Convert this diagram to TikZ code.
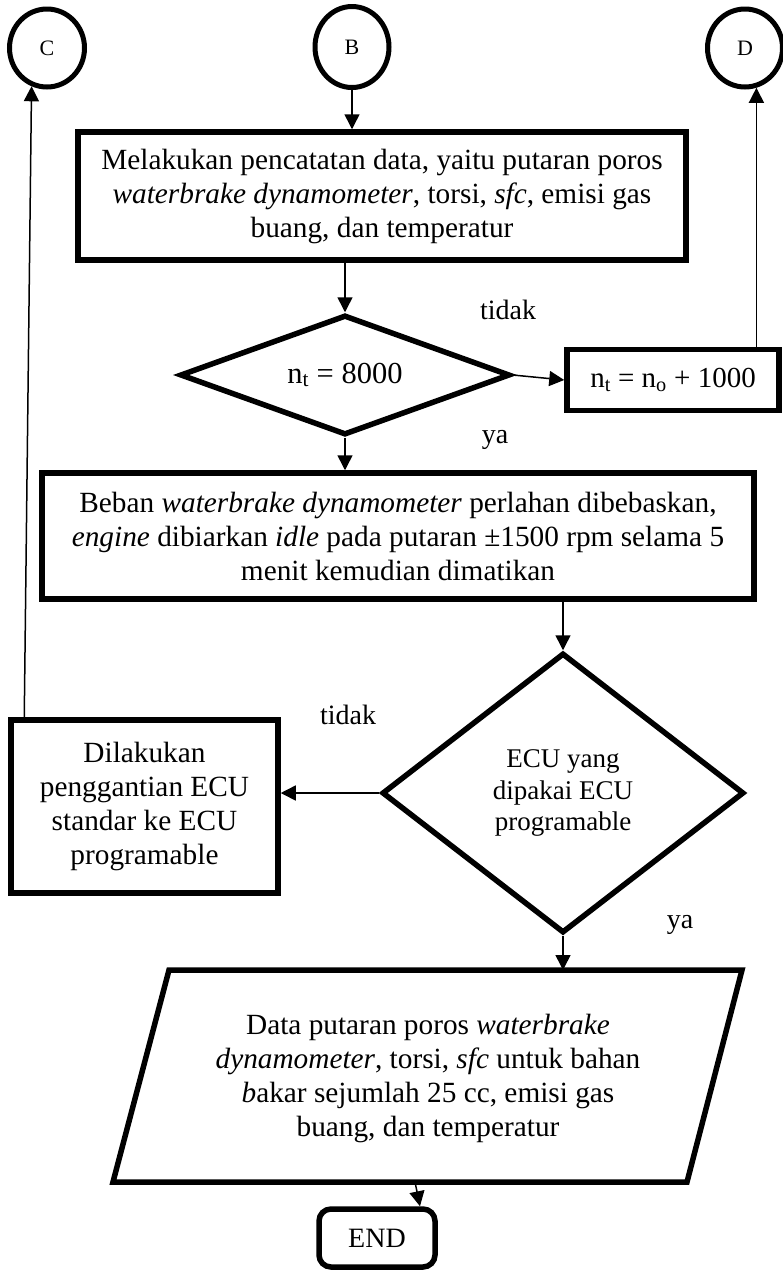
\documentclass[tikz,border=0pt]{standalone}
\usepackage{fontspec}
\setmainfont{Liberation Serif}
\usetikzlibrary{arrows.meta,shapes.geometric}
\begin{document}
\begin{tikzpicture}[x=1pt,y=-1pt,
  txt/.style={font=\fontsize{29.3}{34}\selectfont, align=center, inner sep=0pt},
  connector/.style={ellipse, draw, line width=5pt, minimum width=75pt,
    minimum height=78pt, inner sep=0pt, font=\fontsize{22}{24}\selectfont},
  heavy/.style={line width=5.5pt},
  procbox/.style={txt, draw, heavy, rectangle},
  decision/.style={txt, draw, heavy, diamond},
  endbox/.style={txt, draw, heavy, rectangle, rounded corners=12pt,
    font=\fontsize{28}{34}\selectfont},
  lbl/.style={font=\fontsize{28}{34}\selectfont, inner sep=0pt},
  arr/.style={line width=1.5pt, -{Triangle[length=15pt,width=15pt]}}]
\useasboundingbox (0,0) rectangle (783,1270);

% off-page connectors
\node[connector] (C) at (47,48) {C};
\node[connector, minimum width=74pt, minimum height=81pt] (B) at (352,47) {B};
\node[connector] (D) at (745,48) {D};

% recording step
\node[procbox, minimum width=608pt, minimum height=128pt] (rec) at (382,196)
  {Melakukan pencatatan data, yaitu putaran poros\\
   \textit{waterbrake dynamometer}, torsi, \textit{sfc}, emisi gas\\
   buang, dan temperatur};

% speed check
\node[decision, aspect=2.7, minimum width=330pt, minimum height=120pt,
  font=\fontsize{30.5}{34}\selectfont] (chk) at (345,375)
  {n\textsubscript{t} = 8000};
\node[procbox, minimum width=212pt, minimum height=61pt,
  font=\fontsize{29}{34}\selectfont] (inc) at (673,380)
  {n\textsubscript{t} = n\textsubscript{o} + 1000};

% release load
\node[procbox, minimum width=712pt, minimum height=126pt] (rel) at (398,536)
  {Beban \textit{waterbrake dynamometer} perlahan dibebaskan,\\
   \textit{engine} dibiarkan \textit{idle} pada putaran ±1500 rpm selama 5\\
   menit kemudian dimatikan};

% ECU check
\node[decision, aspect=1.3, minimum width=362pt, minimum height=280pt,
  font=\fontsize{27}{31.5}\selectfont] (ecu) at (563,793)
  {ECU yang\\ dipakai ECU\\ programable};
\node[procbox, minimum width=267pt, minimum height=173pt] (swap) at (144.5,806.5)
  {Dilakukan\\ penggantian ECU\\ standar ke ECU\\ programable};

% output data: parallelogram outline around a text node
\draw[heavy, line join=miter] (169,970) -- (742,970) -- (687,1182) -- (113,1182) -- cycle;
\coordinate (outtop) at (428,970);
\coordinate (outbot) at (428,1182);
\node[txt] (out) at (428,1078)
  {Data putaran poros \textit{waterbrake}\\
   \textit{dynamometer}, torsi, \textit{sfc} untuk bahan\\
   \textit{b}akar sejumlah 25 cc, emisi gas\\
   buang, dan temperatur};

\node[endbox, minimum width=116pt, minimum height=58pt] (fin) at (377,1238) {END};

% branch labels
\node[lbl] (t1) at (508,310) {tidak};
\node[lbl] (y1) at (495,440) {ya};
\node[lbl] (t2) at (348,715) {tidak};
\node[lbl] (y2) at (680,925) {ya};

% connectors
\draw[arr] (B.south) -- (B.south |- rec.north);
\draw[arr] (chk.north |- rec.south) -- (chk.north);
\draw[arr] (chk.east) -- (inc.west);
\draw[arr] (inc.north -| D.-74) -- (D.-74);
\draw[arr] (chk.south) -- (chk.south |- rel.north);
\draw[arr] (ecu.north |- rel.south) -- (ecu.north);
\draw[arr] (ecu.west) -- (ecu.west -| swap.east);
\draw[arr] ([xshift=16pt]swap.north west) -- (C.-112);
\draw[arr] (ecu.south) -- (ecu.south |- outtop);
\draw[arr] ([xshift=-13pt]outbot) -- ([xshift=43pt]fin.north);
\end{tikzpicture}
\end{document}
